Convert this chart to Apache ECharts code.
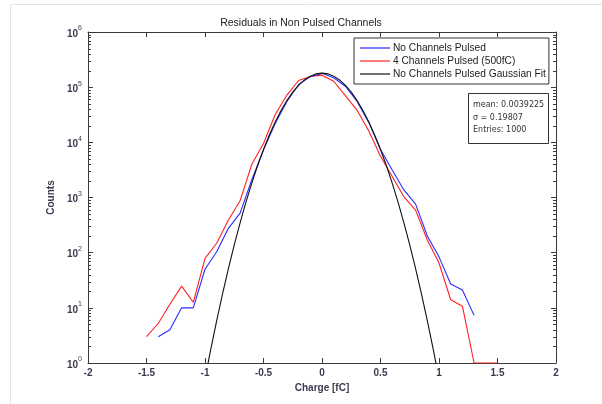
<!DOCTYPE html>
<html>
<head>
<meta charset="utf-8">
<script src="https://cdn.jsdelivr.net/npm/echarts@6/dist/echarts.min.js"></script>
<style>
html,body{margin:0;padding:0;background:#fff;}
#c{width:602px;height:404px;}
</style>
</head>
<body>
<div id="c"></div>
<script>
// ---- Data ----
var titleText = 'Residuals in Non Pulsed Channels';
var xLabel = 'Charge [fC]';
var yLabel = 'Counts';
var seriesNames = ['No Channels Pulsed', '4 Channels Pulsed (500fC)', 'No Channels Pulsed Gaussian Fit'];
var seriesColors = ['#2b2bff', '#ff2020', '#111111'];
var statsLines = ['mean: 0.0039225', '\u03c3 = 0.19807', 'Entries: 1000'];

var blueX = [-1.4,-1.3,-1.2,-1.1,-1.0,-0.9,-0.8,-0.7,-0.6,-0.5,-0.4,-0.3,-0.2,-0.1,0,0.1,0.2,0.3,0.4,0.5,0.6,0.7,0.8,0.9,1.0,1.1,1.2,1.3];
var blueY = [3,4,10,10,50,104,276,520,2100,7300,22000,55000,112000,155000,178000,148000,104000,55000,23000,7400,3150,1370,760,200,84,27,21,7.3];

var redX = [-1.5,-1.4,-1.3,-1.2,-1.1,-1.0,-0.9,-0.8,-0.7,-0.6,-0.5,-0.4,-0.3,-0.2,-0.1,0,0.1,0.2,0.3,0.4,0.5,0.6,0.7,0.8,0.9,1.0,1.1,1.2,1.3,1.4,1.5];
var redY = [3,5.2,11.6,24.7,12.6,79,148,390,870,4000,9500,32000,72000,132000,156000,165000,128000,70000,38000,16000,5600,2400,1030,590,170,65,14,10.7,1,1,1];

var fitX = [-1.0,-0.95,-0.9,-0.85,-0.8,-0.75,-0.7,-0.65,-0.6,-0.55,-0.5,-0.45,-0.4,-0.35,-0.3,-0.25,-0.2,-0.15,-0.1,-0.05,0,0.05,0.1,0.15,0.2,0.25,0.3,0.35,0.4,0.45,0.5,0.55,0.6,0.65,0.7,0.75,0.8,0.85,0.9,0.95,1.0];
var fitY = [0.52,1.8,5.87,17.9,51.3,138,348,822,1825,3800,7420,13600,23400,37700,57100,81100,108000,135100,158400,174300,180000,174300,158400,135100,108000,81100,57100,37700,23400,13600,7420,3800,1825,822,348,138,51.3,17.9,5.87,1.8,0.52];

function pairs(xs, ys){ return xs.map(function(x,i){ return [x, ys[i]]; }); }

// minor tick values (2..9 x 10^n)
var minorVals = [];
for (var d = 0; d < 6; d++) for (var k = 2; k <= 9; k++) minorVals.push([0, k * Math.pow(10, d)]);

var axisColor = '#3a3a3a';
var labelColor = '#3b3b4f';
var font = 'Liberation Sans, Arial, sans-serif';

var chart = echarts.init(document.getElementById('c'), null, {renderer:'canvas'});

var yRich = {
  b: {fontSize: 10, color: labelColor, fontFamily: font, fontWeight: 'bold', padding:[4,0,0,0]},
  s: {fontSize: 7, color: labelColor, fontFamily: font, verticalAlign: 'top', padding:[0,0,6,0]}
};

var option = {
  backgroundColor: '#fff',
  animation: false,
  title: [
    {text: titleText, left: 'center', top: 13, textStyle:{fontSize: 10.5, fontWeight:'normal', color:'#222', fontFamily: font}},
    {text: statsLines.join('\n'), left: 468, top: 93, padding:[6,5,7,5],
     borderColor:'#333', borderWidth:1, backgroundColor:'#fff',
     textStyle:{fontSize: 8, fontWeight:'normal', color:'#333', lineHeight: 12.5, fontFamily: 'DejaVu Sans, sans-serif', width: 70}}
  ],
  legend: {
    orient:'vertical', left: 354, top: 38, padding:[5,3,5,6], itemGap: 3,
    itemWidth: 30, itemHeight: 1.2,
    borderColor:'#333', borderWidth:1, backgroundColor:'#fff',
    textStyle:{fontSize: 10.2, color:'#222', fontFamily: font, padding:[0,0,0,-2]},
    data: seriesNames.map(function(n, i){
      return {name:n, icon:'rect', itemStyle:{color: seriesColors[i], borderWidth:0}};
    })
  },
  graphic: [{
    type:'rect', left: 8, top: 2, shape:{width: 620, height: 420}, z:-10,
    style:{fill:'none', stroke:'#e4e4e4', lineWidth:1}, silent:true
  }],
  grid: {left: 88, top: 32, right: 46, bottom: 41, containLabel:false},
  xAxis: [{
    type:'value', min:-2, max:2, interval:0.5, position:'bottom',
    name: xLabel, nameLocation:'middle', nameGap: 17,
    nameTextStyle:{fontSize:10, color:labelColor, fontFamily: font, fontWeight:'bold'},
    axisLine:{show:true, onZero:false, lineStyle:{color:axisColor, width:1}},
    axisTick:{show:true, inside:true, length:5, lineStyle:{color:axisColor}},
    axisLabel:{fontSize:10, color:labelColor, fontFamily: font, fontWeight:'bold', margin: 5,
      formatter:function(v){ return String(Math.round(v*10)/10); }},
    splitLine:{show:false}
  },{
    type:'value', min:-2, max:2, interval:0.5, position:'top',
    axisLine:{show:true, onZero:false, lineStyle:{color:axisColor, width:1}},
    axisTick:{show:true, inside:true, length:5, lineStyle:{color:axisColor}},
    axisLabel:{show:false}, splitLine:{show:false}
  }],
  yAxis: [{
    type:'log', logBase:10, min:1, max:1000000, position:'left',
    name: yLabel, nameLocation:'middle', nameGap: 22, nameRotate: 90,
    nameTextStyle:{fontSize:10, color:labelColor, fontFamily: font, fontWeight:'bold'},
    axisLine:{show:true, onZero:false, lineStyle:{color:axisColor, width:1}},
    axisTick:{show:true, inside:true, length:5, lineStyle:{color:axisColor}},
    axisLabel:{margin: 6, rich: yRich,
      formatter:function(v){ var e = Math.round(Math.log10(v)); return '{b|10}{s|' + e + '}'; }},
    splitLine:{show:false}
  },{
    type:'log', logBase:10, min:1, max:1000000, position:'right',
    axisLine:{show:true, onZero:false, lineStyle:{color:axisColor, width:1}},
    axisTick:{show:true, inside:true, length:5, lineStyle:{color:axisColor}},
    axisLabel:{show:false}, splitLine:{show:false}
  }],
  series: [
    {name: seriesNames[0], type:'line', data: pairs(blueX, blueY), showSymbol:false, symbol:'none',
     lineStyle:{color:seriesColors[0], width:1.1}, itemStyle:{color:seriesColors[0]}, clip:true, z:3},
    {name: seriesNames[1], type:'line', data: pairs(redX, redY), showSymbol:false, symbol:'none',
     lineStyle:{color:seriesColors[1], width:1.1}, itemStyle:{color:seriesColors[1]}, clip:true, z:2},
    {name: seriesNames[2], type:'line', data: pairs(fitX, fitY), showSymbol:false, symbol:'none',
     lineStyle:{color:seriesColors[2], width:1.1}, itemStyle:{color:seriesColors[2]}, clip:true, z:4},
    {name:'minorTicks', type:'custom', data: minorVals, silent:true, z:5,
     renderItem:function(params, api){
       var p = api.coord([-2, api.value(1)]);
       var cs = params.coordSys;
       var y = Math.round(p[1]) + 0.5;
       return {type:'group', children:[
         {type:'line', shape:{x1: cs.x, y1:y, x2: cs.x + 3, y2:y}, style:{stroke:axisColor, lineWidth:1}},
         {type:'line', shape:{x1: cs.x + cs.width - 3, y1:y, x2: cs.x + cs.width, y2:y}, style:{stroke:axisColor, lineWidth:1}}
       ]};
     }}
  ]
};
chart.setOption(option);
</script>
</body>
</html>
